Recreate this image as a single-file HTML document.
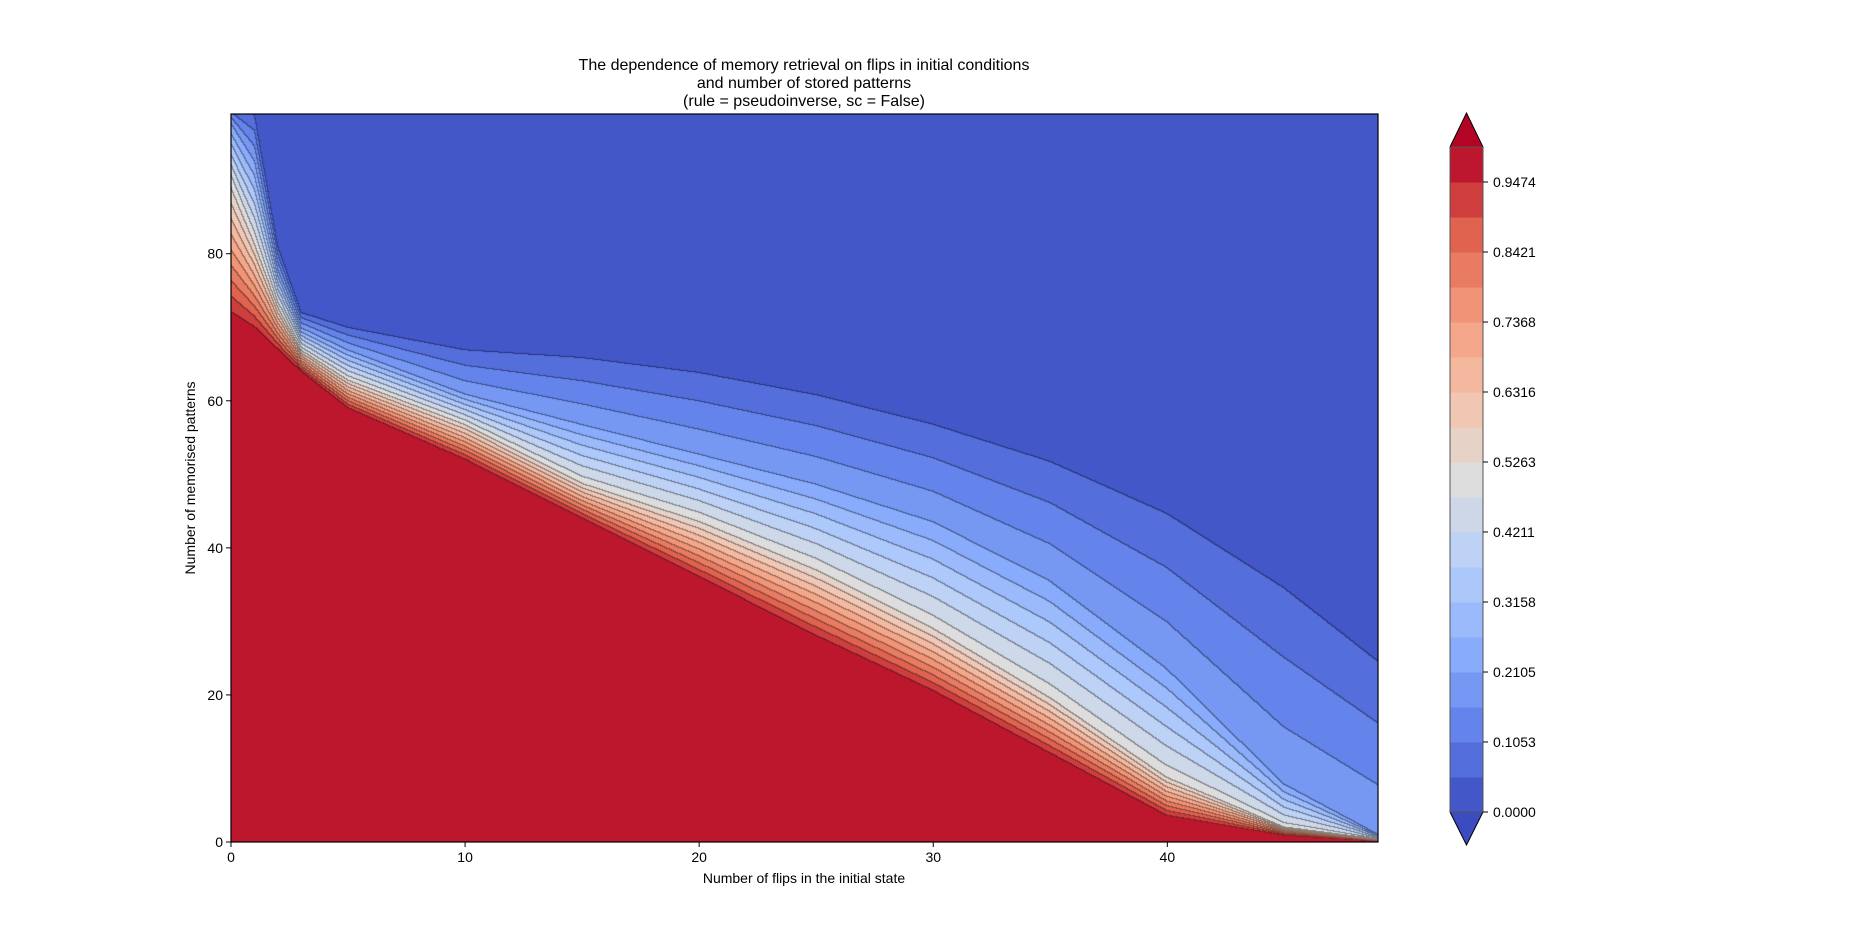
<!DOCTYPE html>
<html><head><meta charset="utf-8">
<style>
body{margin:0;background:#fff;}
#wrap{position:relative;width:1850px;height:946px;overflow:hidden;font-family:"Liberation Sans","DejaVu Sans",sans-serif;color:#000;}
canvas{position:absolute;left:231px;top:114px;}
svg{position:absolute;left:0;top:0;}
</style></head>
<body>
<div id="wrap">
<canvas id="cv" width="1147" height="728"></canvas>
<svg id="sv" width="1850" height="946"></svg>
</div>
<script>
// data: contour heights (patterns) per flip count
const flips = [0,1,2,3,5,10,15,20,25,30,35,40,45,49];
const h95 = [72,70,67,64,59,52,44,36,28,20.5,12,3.5,0.8,0];
const h50 = [90,82,73,67,63,57,49,44,37.5,29.5,20,9,2,0.3];
const h20 = [98,93,78,70,67,61,57,53,49,44,36,24,8,1];
const h05 = [100,99,81,72,70,67,66,64,61,57,52,45,35,25];
const xTicks = [0,10,20,30,40];
const yTicks = [0,20,40,60,80];
const cbTicks = ["0.0000","0.1053","0.2105","0.3158","0.4211","0.5263","0.6316","0.7368","0.8421","0.9474"];
const nLevels = 19;

const X0=231,X1=1378,Y0=842,Y1=114;
const xs = v => X0 + v/49*(X1-X0);
const ys = v => Y0 - v/99*(Y0-Y1);

const cm=[[0,59,76,192],[0.125,98,130,234],[0.25,141,176,254],[0.375,184,208,249],[0.5,221,221,221],[0.625,245,196,173],[0.75,244,154,123],[0.875,222,96,77],[1,180,4,38]];
function cmap(t){t=Math.max(0,Math.min(1,t));for(let i=1;i<cm.length;i++){if(t<=cm[i][0]){const a=cm[i-1],b=cm[i],f=(t-a[0])/(b[0]-a[0]);return [a[1]+(b[1]-a[1])*f,a[2]+(b[2]-a[2])*f,a[3]+(b[3]-a[3])*f];}}return cm[cm.length-1].slice(1);}
function interp(arr,x){for(let i=1;i<flips.length;i++){if(x<=flips[i]){const f=(x-flips[i-1])/(flips[i]-flips[i-1]);return arr[i-1]+(arr[i]-arr[i-1])*f;}}return arr[arr.length-1];}
function value(x,y){
  const a=interp(h95,x),b=Math.max(interp(h50,x),a+0.3),c=Math.max(interp(h20,x),b+0.3),d=Math.max(interp(h05,x),c+0.3);
  if(y<=a) return 0.99;
  if(y<=b) return 0.95-(y-a)/(b-a)*0.45;
  if(y<=c) return 0.5-(y-b)/(c-b)*0.3;
  if(y<=d) return 0.2-(y-c)/(d-c)*0.15;
  return 0.04;
}
const cv=document.getElementById('cv'),ctx=cv.getContext('2d');
const W=cv.width,H=cv.height,img=ctx.createImageData(W,H);
const band=new Int16Array(W*H);
for(let j=0;j<H;j++)for(let i=0;i<W;i++){
  const x=i/(W-1)*49,y=(H-1-j)/(H-1)*99;
  band[j*W+i]=Math.min(nLevels-1,Math.max(0,Math.floor(value(x,y)*nLevels)));
}
const cols=[];for(let k=0;k<nLevels;k++)cols.push(cmap((k+0.5)/nLevels));
for(let j=0;j<H;j++)for(let i=0;i<W;i++){
  const k=band[j*W+i];let c=cols[k];
  const edge=(i+1<W&&band[j*W+i+1]!==k)||(j+1<H&&band[(j+1)*W+i]!==k);
  const p=(j*W+i)*4;const m=edge?0.6:1;
  img.data[p]=c[0]*m;img.data[p+1]=c[1]*m;img.data[p+2]=c[2]*m;img.data[p+3]=255;
}
ctx.putImageData(img,0,0);

const NS='http://www.w3.org/2000/svg',sv=document.getElementById('sv');
function el(t,a,txt){const e=document.createElementNS(NS,t);for(const k in a)e.setAttribute(k,a[k]);if(txt!==undefined)e.textContent=txt;sv.appendChild(e);return e;}
let e;
e=el('rect',{x:X0,y:Y1,width:X1-X0,height:Y0-Y1,fill:'none',stroke:'#000','stroke-width':1.2});


xTicks.forEach(v=>{
  e=el('line',{x1:xs(v),x2:xs(v),y1:Y0,y2:Y0+5,stroke:'#000'});
  
  
  e=el('text',{x:xs(v),y:Y0+20,'text-anchor':'middle','font-size':14},String(v));
  
  
});
yTicks.forEach(v=>{
  e=el('line',{x1:X0-5,x2:X0,y1:ys(v),y2:ys(v),stroke:'#000'});
  
  
  e=el('text',{x:X0-8,y:ys(v)+5,'text-anchor':'end','font-size':14},String(v));
  
  
});
e=el('text',{x:804,y:883,'text-anchor':'middle','font-size':14},'Number of flips in the initial state');


e=el('text',{x:195,y:478,'text-anchor':'middle','font-size':14,transform:'rotate(-90 195 478)'},'Number of memorised patterns');


['The dependence of memory retrieval on flips in initial conditions','and number of stored patterns','(rule = pseudoinverse, sc = False)'].forEach((t,i)=>{
  e=el('text',{x:804,y:70+i*18,'text-anchor':'middle','font-size':16},t);
  
  
});
// colorbar
const CX0=1450,CX1=1483,CB0=812,CBT=147;
const cy=v=>CB0-v*(CB0-CBT);
for(let k=0;k<nLevels;k++){
  const c=cols[k];
  e=el('rect',{x:CX0,y:cy((k+1)/nLevels),width:CX1-CX0,height:(CB0-CBT)/nLevels+0.5,fill:`rgb(${c[0]|0},${c[1]|0},${c[2]|0})`});
  
  
}
e=el('polygon',{points:`${CX0},${CBT} ${(CX0+CX1)/2},113 ${CX1},${CBT}`,fill:'#b40426',stroke:'#000','stroke-width':1});


e=el('polygon',{points:`${CX0},${CB0} ${(CX0+CX1)/2},845 ${CX1},${CB0}`,fill:'#3b4cc0',stroke:'#000','stroke-width':1});


e=el('rect',{x:CX0,y:CBT,width:CX1-CX0,height:CB0-CBT,fill:'none',stroke:'#555','stroke-width':1});


cbTicks.forEach(t=>{
  const y=cy(parseFloat(t));
  e=el('line',{x1:CX1,x2:CX1+5,y1:y,y2:y,stroke:'#000'});
  
  
  e=el('text',{x:CX1+10,y:y+5,'font-size':14},t);
  
  
});
</script>
</body></html>
